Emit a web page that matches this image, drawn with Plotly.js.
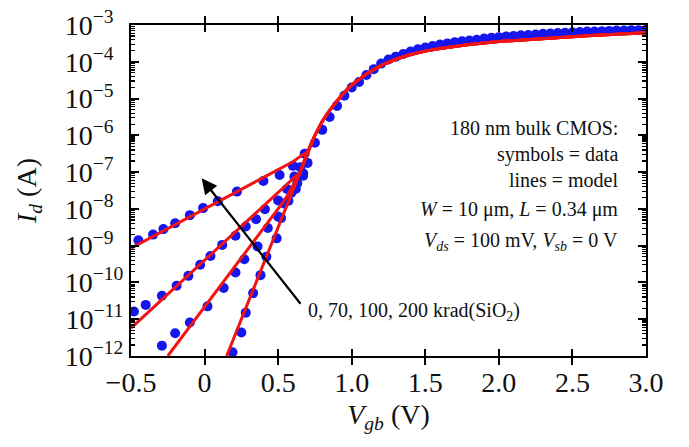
<!DOCTYPE html>
<html>
<head>
<meta charset="utf-8">
<script src="https://cdn.plot.ly/plotly-3.0.1.min.js"></script>
<style>
  html, body { margin: 0; padding: 0; background: #fff; }
  #chart { width: 689px; height: 447px; }
</style>
</head>
<body>
<div id="chart"></div>
<script>
// Measured drain current (A) vs gate-body voltage (V), subthreshold part per dose
const data0V   = [0.19, 0.25, 0.28, 0.33, 0.38, 0.42, 0.49, 0.52, 0.57, 0.62, 0.67, 0.70];
const data0I   = [1.26e-12, 4.37e-12, 1.51e-11, 5.13e-11, 1.58e-10, 5.01e-10, 1.58e-9, 5.62e-9, 1.66e-8, 3.47e-8, 7.94e-8, 1.78e-7];

const data70V  = [-0.29, -0.20, -0.10, 0.02, 0.13, 0.21, 0.27, 0.36, 0.43, 0.50, 0.54, 0.59, 0.63, 0.67];
const data70I  = [1.91e-12, 4.17e-12, 8.13e-12, 2.24e-11, 7.08e-11, 1.86e-10, 4.27e-10, 9.55e-10, 3.02e-9, 6.17e-9, 1.41e-8, 2.75e-8, 5.01e-8, 9.33e-8];

const data100V = [-0.48, -0.40, -0.29, -0.19, -0.11, -0.03, 0.04, 0.12, 0.21, 0.28, 0.35, 0.41, 0.50, 0.56, 0.61, 0.65];
const data100I = [1.62e-11, 2.45e-11, 4.37e-11, 8.13e-11, 1.51e-10, 3.02e-10, 5.25e-10, 1.05e-9, 1.86e-9, 3.31e-9, 5.25e-9, 9.77e-9, 1.70e-8, 3.47e-8, 7.59e-8, 1.35e-7];

const data200V = [-0.45, -0.35, -0.28, -0.20, -0.10, -0.01, 0.09, 0.22, 0.40, 0.51, 0.60, 0.68];
const data200I = [1.41e-9, 2.00e-9, 2.82e-9, 4.07e-9, 6.76e-9, 1.05e-8, 1.62e-8, 2.95e-8, 5.75e-8, 8.32e-8, 1.48e-7, 3.16e-7];

// Above threshold all doses coincide
const dataOnV = [0.75, 0.80, 0.85, 0.90, 0.95, 1.00, 1.05, 1.10, 1.15, 1.20, 1.25, 1.30, 1.35, 1.40, 1.45, 1.50,
                 1.55, 1.60, 1.65, 1.70, 1.75, 1.80, 1.85, 1.90, 1.95, 2.00, 2.05, 2.10, 2.15, 2.20, 2.25, 2.30,
                 2.35, 2.40, 2.45, 2.50, 2.55, 2.60, 2.65, 2.70, 2.75, 2.80, 2.85, 2.90, 2.95, 3.00];
const dataOnI = [6.31e-7, 1.41e-6, 3.16e-6, 6.31e-6, 1.20e-5, 2.00e-5, 2.82e-5, 4.37e-5, 6.31e-5, 8.91e-5, 1.15e-4, 1.38e-4,
                 1.62e-4, 1.91e-4, 2.19e-4, 2.45e-4, 2.69e-4, 2.95e-4, 3.16e-4, 3.39e-4, 3.63e-4, 3.80e-4, 3.98e-4, 4.27e-4,
                 4.47e-4, 4.68e-4, 4.90e-4, 5.01e-4, 5.25e-4, 5.37e-4, 5.50e-4, 5.75e-4, 5.89e-4, 6.03e-4, 6.17e-4, 6.31e-4,
                 6.46e-4, 6.61e-4, 6.61e-4, 6.76e-4, 6.92e-4, 7.08e-4, 7.08e-4, 7.24e-4, 7.24e-4, 7.41e-4];

// Model curves: subthreshold branch per dose, then a shared strong-inversion branch
const model0V   = [0.15, 0.60, 0.65];
const model0I   = [1.0e-12, 3.16e-8, 1.0e-7];
const model70V  = [-0.25, 0.55, 0.65];
const model70I  = [1.0e-12, 1.86e-8, 1.0e-7];
const model100V = [-0.50, 0.60, 0.65];
const model100I = [5.75e-12, 6.61e-8, 1.0e-7];
const model200V = [-0.50, 0.60, 0.66];
const model200I = [8.51e-10, 1.91e-7, 2.82e-7];

const modelOnV = [0.70, 0.75, 0.80, 0.85, 0.90, 0.95, 1.00, 1.05, 1.10, 1.20, 1.30, 1.40, 1.50, 1.60, 1.80, 2.00, 2.20, 2.40, 2.60, 2.80, 3.00];
const modelOnI = [3.55e-7, 1.0e-6, 2.40e-6, 4.79e-6, 8.71e-6, 1.48e-5, 2.34e-5, 3.39e-5, 4.68e-5, 7.94e-5, 1.17e-4, 1.58e-4,
                  1.95e-4, 2.29e-4, 2.95e-4, 3.55e-4, 4.07e-4, 4.57e-4, 5.13e-4, 5.62e-4, 6.17e-4];

// Axis tick labels (single-digit exponents padded with a figure space so the bases line up)
const xTickVals = [-0.5, 0, 0.5, 1.0, 1.5, 2.0, 2.5, 3.0];
const xTickText = ['\u22120.5', '0', '0.5', '1.0', '1.5', '2.0', '2.5', '3.0'];
const yTickVals = [1e-12, 1e-11, 1e-10, 1e-9, 1e-8, 1e-7, 1e-6, 1e-5, 1e-4, 1e-3];
const yTickText = ['10<sup>\u221212</sup>', '10<sup>\u221211</sup>', '10<sup>\u221210</sup>', '10<sup>\u22129\u2007</sup>',
                   '10<sup>\u22128\u2007</sup>', '10<sup>\u22127\u2007</sup>', '10<sup>\u22126\u2007</sup>', '10<sup>\u22125\u2007</sup>',
                   '10<sup>\u22124\u2007</sup>', '10<sup>\u22123\u2007</sup>'];

// Minor log ticks (2..9 within each decade), drawn by the overlaid axis that carries the model curves
const yMinorVals = [];
yTickVals.slice(0, -1).forEach(d => { for (let m = 2; m <= 9; m++) yMinorVals.push(m * d); });

const infoLines = [
  '180 nm bulk CMOS:',
  'symbols = data',
  'lines = model',
  '<i>W</i> = 10 μm, <i>L</i> = 0.34 μm',
  '<i>V</i><sub><i>ds</i></sub> = 100 mV, <i>V</i><sub><i>sb</i></sub> = 0 V'
];
const doseLabel = '0, 70, 100, 200 krad(SiO<sub>2</sub>)';

const FONT = '"Liberation Serif", "Times New Roman", Times, serif';
const BLUE = '#1515ee';
const RED = '#f01414';

function dots(x, y) {
  return { x: x, y: y, type: 'scatter', mode: 'markers',
           marker: { color: BLUE, size: 10, line: { width: 0 } },
           hoverinfo: 'skip', showlegend: false };
}
function curve(x, y) {
  return { x: x, y: y, yaxis: 'y2', type: 'scatter', mode: 'lines',
           line: { color: RED, width: 3 },
           hoverinfo: 'skip', showlegend: false };
}

const traces = [
  dots(data0V, data0I), dots(data70V, data70I), dots(data100V, data100I), dots(data200V, data200I),
  dots(dataOnV, dataOnI),
  curve(model0V.concat(modelOnV), model0I.concat(modelOnI)),
  curve(model70V.concat(modelOnV), model70I.concat(modelOnI)),
  curve(model100V.concat(modelOnV), model100I.concat(modelOnI)),
  curve(model200V.concat(modelOnV), model200I.concat(modelOnI))
];

// Right-aligned info block, one annotation per line
const infoY = [-5.80, -6.53, -7.21, -8.03, -8.88];
const annotations = infoLines.map((t, i) => ({
  x: 2.824, y: infoY[i], xref: 'x', yref: 'y',
  text: t, showarrow: false, xanchor: 'right', yanchor: 'middle',
  font: { family: FONT, size: 20, color: '#111' }
}));

// Arrow showing increasing dose
annotations.push({
  x: -0.02, y: -7.17, xref: 'x', yref: 'y',
  ax: 0.66, ay: -10.62, axref: 'x', ayref: 'y',
  text: '', showarrow: true, arrowhead: 2, arrowsize: 1.4, arrowwidth: 2.2, arrowcolor: '#000'
});
annotations.push({
  x: 0.69, y: -10.78, xref: 'x', yref: 'y',
  text: doseLabel, showarrow: false, xanchor: 'left', yanchor: 'middle',
  font: { family: FONT, size: 20, color: '#111' }
});

const layout = {
  width: 689, height: 447,
  margin: { l: 131, r: 43, t: 25, b: 91 },
  paper_bgcolor: '#fff', plot_bgcolor: '#fff',
  font: { family: FONT, color: '#111' },
  showlegend: false,
  xaxis: {
    range: [-0.5, 3.0],
    tickmode: 'array', tickvals: xTickVals, ticktext: xTickText,
    ticks: 'inside', ticklen: 7, tickwidth: 2, tickcolor: 'rgb(0,0,0)',
    showline: true, linecolor: 'rgb(0,0,0)', linewidth: 2, mirror: 'allticks',
    showgrid: false, zeroline: false,
    tickfont: { family: FONT, size: 28, color: '#111' },
    title: { text: '<i>V</i><sub><i>gb</i></sub> (V)', font: { family: FONT, size: 28, color: '#111' }, standoff: 8 }
  },
  yaxis: {
    type: 'log', range: [-12, -3],
    tickmode: 'array', tickvals: yTickVals, ticktext: yTickText,
    ticks: 'inside', ticklen: 8, tickwidth: 2, tickcolor: 'rgb(0,0,0)',
    showline: true, linecolor: 'rgb(0,0,0)', linewidth: 2, mirror: 'allticks',
    showgrid: false, zeroline: false,
    tickfont: { family: FONT, size: 28, color: '#111' },
    title: { text: '<i>I</i><sub><i>d</i></sub> (A)', font: { family: FONT, size: 28, color: '#111' }, standoff: 20 }
  },
  yaxis2: {
    type: 'log', range: [-12, -3], overlaying: 'y', anchor: 'x', side: 'left',
    tickmode: 'array', tickvals: yMinorVals, showticklabels: false,
    ticks: 'inside', ticklen: 4, tickwidth: 1.2, tickcolor: 'rgb(0,0,0)',
    showline: true, linecolor: 'rgb(0,0,0)', linewidth: 2, mirror: 'allticks',
    showgrid: false, zeroline: false
  },
  annotations: annotations
};

Plotly.newPlot('chart', traces, layout, { staticPlot: true, displayModeBar: false });
</script>
</body>
</html>
